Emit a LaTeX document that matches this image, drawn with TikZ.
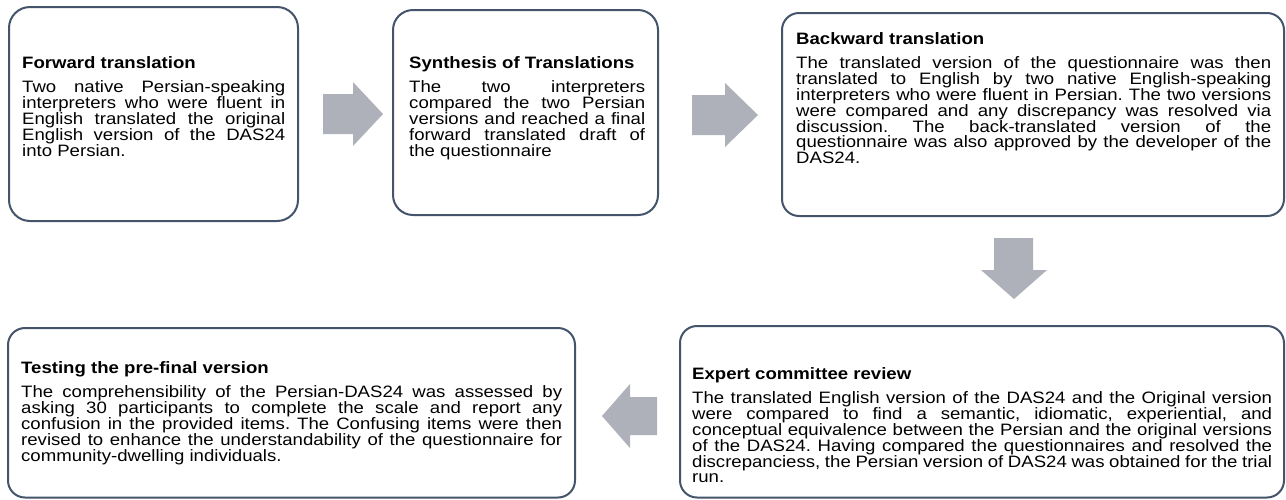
\documentclass[tikz,border=0pt]{standalone}
\usepackage{fontspec}
\setmainfont{Liberation Sans}
\usepackage{graphicx}
\frenchspacing
\definecolor{boxline}{HTML}{44546A}
\definecolor{arrowgray}{HTML}{AEB1B9}
\newcommand\hsc{1.127}
\newcommand\jl[1]{\hbox to \hsize{#1}}
\newcommand\lastl[1]{\hbox{#1}}
\newcommand\tblock[3]{\scalebox{\hsc}[1]{\vtop{\hsize=#1\relax
  \baselineskip=15.9pt\lineskip=0pt\lineskiplimit=-100pt
  \hbox{\bfseries #2}\vskip 8.5pt #3}}}
\tikzset{
  stepbox/.style={draw=boxline, line width=2pt, fill=white, inner sep=0pt},
  txt/.style={anchor=base west, inner sep=0pt, font=\fontsize{16.5}{15.9}\selectfont},
  blockarrow/.style={fill=arrowgray, draw=none}
}
\begin{document}
\begin{tikzpicture}[x=1pt, y=-1pt]
\useasboundingbox (0,0) rectangle (1286,499);
\fill[white] (0,0) rectangle (1286,499);
% boxes
\node[stepbox, rounded corners=21pt, minimum width=289pt, minimum height=214pt] (b1) at (153.5,114) {};
\node[stepbox, rounded corners=20pt, minimum width=265pt, minimum height=205pt] (b2) at (525.5,112.5) {};
\node[stepbox, rounded corners=17pt, minimum width=502pt, minimum height=203pt] (b3) at (1033,114.5) {};
\node[stepbox, rounded corners=17pt, minimum width=567pt, minimum height=169.5pt] (b4) at (291.5,412.75) {};
\node[stepbox, rounded corners=17pt, minimum width=604pt, minimum height=171.5pt] (b5) at (982,411.75) {};
% texts
\node[txt] (t1) at (22,68) {\tblock{233.4pt}{Forward translation}{%
\jl{Two native Persian-speaking}
\jl{interpreters who were fluent in}
\jl{English translated the original}
\jl{English version of the DAS24}
\lastl{into Persian.}}};
\node[txt] (t2) at (409,68) {\tblock{209.4pt}{Synthesis of Translations}{%
\jl{The two interpreters}
\jl{compared the two Persian}
\jl{versions and reached a final}
\jl{forward translated draft of}
\lastl{the questionnaire}}};
\node[txt] (t3) at (796,44) {\tblock{421.5pt}{Backward translation}{%
\jl{The translated version of the questionnaire was then}
\jl{translated to English by two native English-speaking}
\jl{interpreters who were fluent in Persian. The two versions}
\jl{were compared and any discrepancy was resolved via}
\jl{discussion. The back-translated version of the}
\jl{questionnaire was also approved by the developer of the}
\lastl{DAS24.}}};
\node[txt] (t4) at (21,373) {\tblock{480.0pt}{Testing the pre-final version}{%
\jl{The comprehensibility of the Persian-DAS24 was assessed by}
\jl{asking 30 participants to complete the scale and report any}
\jl{confusion in the provided items. The Confusing items were then}
\jl{revised to enhance the understandability of the questionnaire for}
\lastl{community-dwelling individuals.}}};
\node[txt] (t5) at (692,379) {\tblock{514.6pt}{Expert committee review}{%
\jl{The translated English version of the DAS24 and the Original version}
\jl{were compared to find a semantic, idiomatic, experiential, and}
\jl{conceptual equivalence between the Persian and the original versions}
\jl{of the DAS24. Having compared the questionnaires and resolved the}
\jl{discrepanciess, the Persian version of DAS24 was obtained for the trial}
\lastl{run.}}};
% block arrows
\fill[blockarrow] (323,94) -- (353,94) -- (353,82) -- (383,114) -- (353,146) -- (353,134) -- (323,134) -- cycle;
\fill[blockarrow] (692,95) -- (725,95) -- (725,83) -- (758,115) -- (725,147) -- (725,135) -- (692,135) -- cycle;
\fill[blockarrow] (994,238) -- (1033,238) -- (1033,270) -- (1047,270) -- (1014,299) -- (981,270) -- (994,270) -- cycle;
\fill[blockarrow] (657,397) -- (630,397) -- (630,384) -- (602,416) -- (630,448) -- (630,435) -- (657,435) -- cycle;
\end{tikzpicture}
\end{document}
